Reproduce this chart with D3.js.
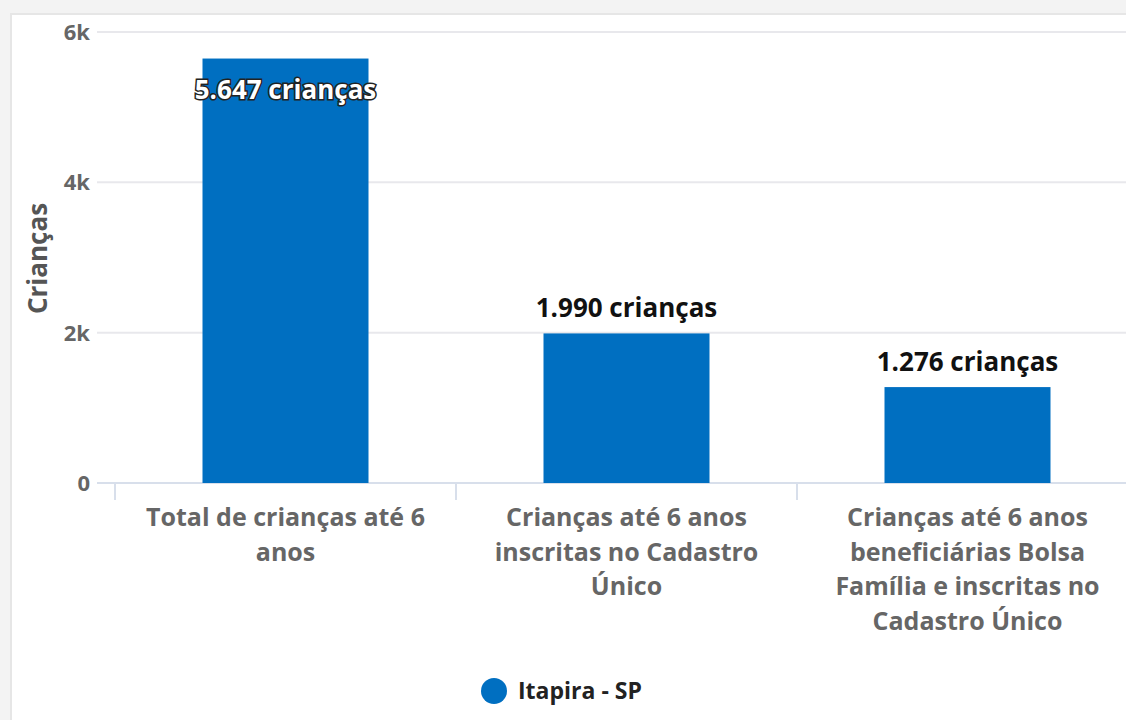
<!DOCTYPE html>
<html>
<head>
<meta charset="utf-8">
<style>
  body { margin: 0; background: #f3f3f3; overflow: hidden; }
  #chart { position: absolute; left: 0; top: 0; }
  text { font-family: "Open Sans", Lato, sans-serif; font-weight: 700; }
</style>
</head>
<body>
<div id="chart"></div>
<script src="https://d3js.org/d3.v7.min.js"></script>
<script>
// data
var categories = ["Total de crianças até 6 anos",
                  "Crianças até 6 anos inscritas no Cadastro Único",
                  "Crianças até 6 anos beneficiárias Bolsa Família e inscritas no Cadastro Único"];
var values = [5647, 1990, 1276];
var seriesName = "Itapira - SP";
var yTicks = [0, 2000, 4000, 6000];
var yTickLabels = ["0", "2k", "4k", "6k"];

var W = 1126, H = 720;
var margin = {top: 32, left: 115, right: -12, bottom: 237};
var plotW = W - margin.left - margin.right,
    plotH = H - margin.top - margin.bottom;
var blue = "#006fc1";

var svg = d3.select("#chart").append("svg")
  .attr("width", W)
  .attr("height", H);

// page frame / card
svg.append("rect").attr("x", 0).attr("y", 0).attr("width", W).attr("height", H).attr("fill", "#f3f3f3");
svg.append("rect").attr("x", 10).attr("y", 13).attr("width", W).attr("height", H).attr("fill", "#e6e6e6");
svg.append("rect").attr("x", 12).attr("y", 15).attr("width", W).attr("height", H).attr("fill", "#ffffff");

var g = svg.append("g")
  .attr("transform", "translate(" + margin.left + "," + margin.top + ")");

var x = d3.scaleBand()
  .domain(categories)
  .range([0, plotW])
  .paddingInner(0)
  .paddingOuter(0);

var y = d3.scaleLinear()
  .domain([0, 6000])
  .range([plotH, 0]);

// gridlines
g.append("g")
  .selectAll("line")
  .data(yTicks)
  .enter().append("line")
    .attr("x1", -18)
    .attr("x2", plotW)
    .attr("y1", function(d) { return y(d); })
    .attr("y2", function(d) { return y(d); })
    .attr("stroke", "#e8e8ec")
    .attr("stroke-width", 2);

// y axis labels
g.append("g")
  .selectAll("text")
  .data(yTicks)
  .enter().append("text")
    .attr("x", -25)
    .attr("y", function(d) { return y(d); })
    .attr("dy", "0.36em")
    .attr("text-anchor", "end")
    .attr("fill", "#666666")
    .style("font-size", "22px")
    .text(function(d, i) { return yTickLabels[i]; });

// y axis title
svg.append("text")
  .attr("transform", "translate(47," + (margin.top + plotH / 2 + 1) + ") rotate(-90)")
  .attr("text-anchor", "middle")
  .attr("fill", "#555555")
  .style("font-size", "26px")
  .text("Crianças");

// x axis line and ticks
var xAxis = g.append("g").attr("transform", "translate(0," + plotH + ")");
xAxis.append("line")
  .attr("x1", -18).attr("x2", plotW)
  .attr("y1", 0).attr("y2", 0)
  .attr("stroke", "#d8dfeb").attr("stroke-width", 2);
xAxis.selectAll(".tick")
  .data(categories)
  .enter().append("line")
    .attr("x1", function(d) { return x(d); })
    .attr("x2", function(d) { return x(d); })
    .attr("y1", 0).attr("y2", 17)
    .attr("stroke", "#d8dfeb").attr("stroke-width", 2);

// category labels, wrapped
xAxis.selectAll(".cat")
  .data(categories)
  .enter().append("text")
    .attr("class", "cat")
    .attr("x", function(d) { return x(d) + x.bandwidth() / 2; })
    .attr("y", 43)
    .attr("text-anchor", "middle")
    .attr("fill", "#666666")
    .style("font-size", "25px")
    .text(function(d) { return d; })
    .call(wrap, 312);

// bars
g.selectAll(".bar")
  .data(values)
  .enter().append("rect")
    .attr("class", "bar")
    .attr("x", function(d, i) { return x(categories[i]) + x.bandwidth() / 2 - 83; })
    .attr("width", 166)
    .attr("y", function(d) { return y(d); })
    .attr("height", function(d) { return plotH - y(d); })
    .attr("fill", blue);

// data labels
var fmt = function(v) { return d3.format(",")(v).replace(/,/g, ".") + " crianças"; };
g.selectAll(".lbl")
  .data(values)
  .enter().append("text")
    .attr("class", "lbl")
    .attr("x", function(d, i) { return x(categories[i]) + x.bandwidth() / 2; })
    .attr("y", function(d) { return y(d) > 60 ? y(d) - 16 : y(d) + 40; })
    .attr("text-anchor", "middle")
    .attr("fill", function(d) { return y(d) > 60 ? "#111111" : "#ffffff"; })
    .attr("stroke", function(d) { return y(d) > 60 ? "none" : "#222222"; })
    .attr("stroke-width", 3)
    .attr("paint-order", "stroke")
    .style("font-size", "26px")
    .text(fmt);

// legend
var legend = svg.append("g").attr("transform", "translate(494,691)");
legend.append("circle").attr("r", 13).attr("fill", blue);
legend.append("text")
  .attr("x", 24)
  .attr("dy", "0.36em")
  .attr("fill", "#222222")
  .style("font-size", "23px")
  .text(seriesName);

function wrap(text, width) {
  text.each(function() {
    var t = d3.select(this),
        words = t.text().split(/\s+/),
        line = [],
        lineNo = 0,
        xPos = t.attr("x"),
        yPos = t.attr("y"),
        tspan = t.text(null).append("tspan").attr("x", xPos).attr("y", yPos);
    words.forEach(function(word) {
      line.push(word);
      tspan.text(line.join(" "));
      if (tspan.node().getComputedTextLength() > width && line.length > 1) {
        line.pop();
        tspan.text(line.join(" "));
        line = [word];
        lineNo++;
        tspan = t.append("tspan").attr("x", xPos).attr("y", +yPos + lineNo * 34.5).text(word);
      }
    });
  });
}
</script>
</body>
</html>
